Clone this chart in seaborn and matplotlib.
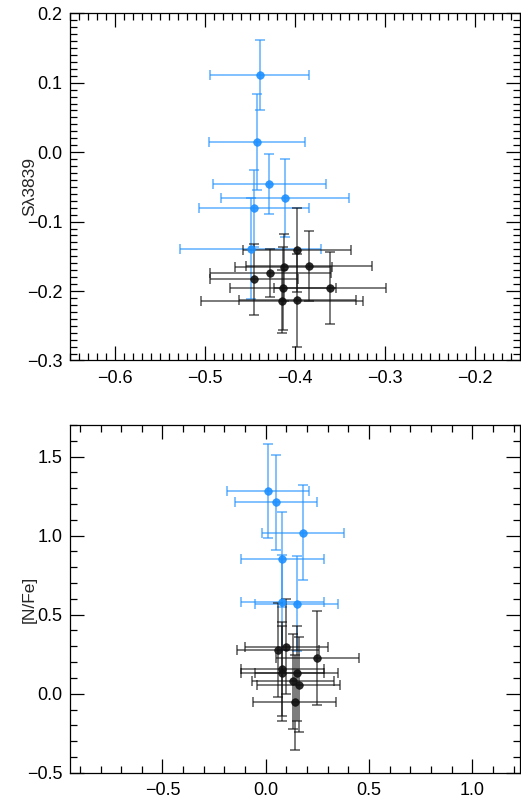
import numpy as np
import pandas as pd
import matplotlib.pyplot as plt
import seaborn as sns
from matplotlib.ticker import MultipleLocator

sns.set_style("ticks")
plt.rcParams['font.family'] = ['Liberation Sans', 'DejaVu Sans']

# top panel: S(3839) index
top_blue_x = [-0.439, -0.442, -0.428, -0.411, -0.445, -0.449]
top_blue_y = [0.111, 0.014, -0.046, -0.066, -0.081, -0.139]
top_blue_xerr = [0.055, 0.053, 0.063, 0.071, 0.061, 0.078]
top_blue_yerr = [0.050, 0.069, 0.043, 0.056, 0.056, 0.073]

top_black_x = [-0.397, -0.384, -0.412, -0.427, -0.445, -0.413, -0.361, -0.414, -0.397]
top_black_y = [-0.141, -0.164, -0.166, -0.174, -0.183, -0.196, -0.196, -0.215, -0.213]
top_black_xerr = [0.060, 0.070, 0.054, 0.067, 0.049, 0.059, 0.062, 0.090, 0.065]
top_black_yerr = [0.060, 0.050, 0.048, 0.035, 0.051, 0.060, 0.052, 0.045, 0.067]

# bottom panel: [N/Fe]
bot_blue_x = [0.011, 0.050, 0.180, 0.081, 0.081, 0.150]
bot_blue_y = [1.283, 1.211, 1.019, 0.851, 0.578, 0.570]
bot_blue_xerr = [0.20, 0.20, 0.20, 0.20, 0.20, 0.20]
bot_blue_yerr = [0.30, 0.30, 0.30, 0.30, 0.30, 0.30]

bot_black_x = [0.100, 0.060, 0.250, 0.081, 0.081, 0.150, 0.132, 0.160, 0.140]
bot_black_y = [0.297, 0.277, 0.226, 0.156, 0.129, 0.129, 0.078, 0.057, -0.054]
bot_black_xerr = [0.20, 0.20, 0.20, 0.20, 0.20, 0.20, 0.20, 0.20, 0.20]
bot_black_yerr = [0.30, 0.30, 0.30, 0.30, 0.30, 0.30, 0.30, 0.30, 0.30]

BLUE = "#1e90ff"
BLACK = "#111111"


def panel(ax, groups):
    for x, y, xe, ye, col in groups:
        ax.errorbar(x, y, xerr=xe, yerr=ye, fmt="none", ecolor=col,
                    elinewidth=1.3, capsize=3.5, capthick=1.3, alpha=0.6, zorder=2)
        df = pd.DataFrame({"x": x, "y": y})
        sns.scatterplot(data=df, x="x", y="y", ax=ax, color=col, s=30,
                        edgecolor=col, linewidth=0.5, alpha=0.9, zorder=3)


def idl_axes(ax, xmaj, xmin, ymaj, ymin):
    ax.xaxis.set_major_locator(MultipleLocator(xmaj))
    ax.xaxis.set_minor_locator(MultipleLocator(xmin))
    ax.yaxis.set_major_locator(MultipleLocator(ymaj))
    ax.yaxis.set_minor_locator(MultipleLocator(ymin))
    ax.tick_params(which="both", direction="in", top=True, right=True,
                   width=0.9, colors="black", labelsize=13)
    ax.tick_params(which="major", length=10)
    ax.tick_params(which="minor", length=5)
    ax.tick_params(axis="x", pad=7)
    ax.tick_params(axis="y", pad=5)
    for s in ax.spines.values():
        s.set_visible(True)
        s.set_linewidth(0.9)
        s.set_color("black")
    ax.set_xlabel("")


fig = plt.figure(figsize=(5.21, 8.02), dpi=100)
ax1 = fig.add_axes([0.1335, 0.5505, 0.864, 0.433])
ax2 = fig.add_axes([0.1335, 0.0365, 0.864, 0.4335])

panel(ax1, [(top_blue_x, top_blue_y, top_blue_xerr, top_blue_yerr, BLUE),
            (top_black_x, top_black_y, top_black_xerr, top_black_yerr, BLACK)])
ax1.set_xlim(-0.65, -0.15)
ax1.set_ylim(-0.3, 0.2)
idl_axes(ax1, 0.1, 0.01, 0.1, 0.01)
ax1.set_ylabel("S\u03bb3839", fontsize=12.5)
ax1.yaxis.set_label_coords(-0.073, 0.5)

panel(ax2, [(bot_blue_x, bot_blue_y, bot_blue_xerr, bot_blue_yerr, BLUE),
            (bot_black_x, bot_black_y, bot_black_xerr, bot_black_yerr, BLACK)])
ax2.set_xlim(-0.95, 1.23)
ax2.set_ylim(-0.5, 1.7)
idl_axes(ax2, 0.5, 0.1, 0.5, 0.1)
ax2.set_ylabel("[N/Fe]", fontsize=12.5)
ax2.yaxis.set_label_coords(-0.073, 0.5)

fig.savefig("out.png", dpi=100)
